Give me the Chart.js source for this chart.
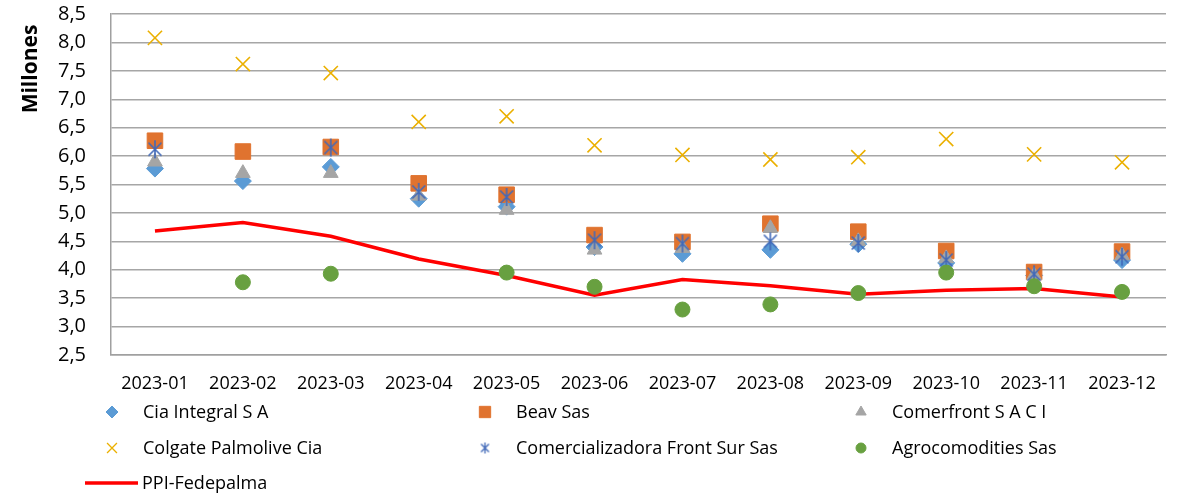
<!DOCTYPE html>
<html><head><meta charset="utf-8">
<script src="https://cdn.jsdelivr.net/npm/chart.js@4.4.1/dist/chart.umd.min.js"></script>
<style>html,body{margin:0;padding:0;background:#fff;overflow:hidden}#wrap{width:1178px;height:495px;position:relative}</style>
</head><body><div id="wrap"><canvas id="c" width="1178" height="495"></canvas></div>
<script>
const categories = ['2023-01','2023-02','2023-03','2023-04','2023-05','2023-06','2023-07','2023-08','2023-09','2023-10','2023-11','2023-12'];
const ciaIntegral = [5.78,5.56,5.81,5.25,5.11,4.40,4.28,4.35,4.45,4.12,3.90,4.17];
const beavSas = [6.27,6.08,6.16,5.52,5.32,4.61,4.49,4.81,4.67,4.33,3.96,4.32];
const comerfront = [5.90,5.70,5.70,5.30,5.05,4.35,4.38,4.73,4.50,4.20,3.90,4.25];
const colgate = [8.08,7.62,7.46,6.60,6.70,6.19,6.02,5.94,5.98,6.30,6.03,5.89];
const comercializadora = [6.12,null,6.15,5.37,5.28,4.52,4.46,4.50,4.47,4.17,3.92,4.23];
const agrocomodities = [null,3.78,3.93,null,3.95,3.70,3.30,3.39,3.59,3.95,3.71,3.61];
const ppiFedepalma = [4.68,4.83,4.59,4.19,3.90,3.55,3.83,3.72,3.57,3.64,3.67,3.52];
const yTicks = [2.5,3.0,3.5,4.0,4.5,5.0,5.5,6.0,6.5,7.0,7.5,8.0,8.5];
const seriesNames = ['Cia Integral S A','Beav Sas','Comerfront S A C I','Colgate Palmolive Cia','Comercializadora Front Sur Sas','Agrocomodities Sas','PPI-Fedepalma'];
const yTitle = 'Millones';

const FONT = "'Open Sans', 'Noto Sans', sans-serif";

function makeAsterisk(size, color, lw) {
  const cv = document.createElement('canvas');
  cv.width = size; cv.height = size;
  const c = cv.getContext('2d');
  c.strokeStyle = color; c.lineWidth = lw; c.lineCap = 'butt';
  const m = size / 2, a = size / 2 - 1, d = a * 0.72;
  c.beginPath();
  c.moveTo(m, m - a); c.lineTo(m, m + a);
  c.moveTo(m - d, m - d); c.lineTo(m + d, m + d);
  c.moveTo(m + d, m - d); c.lineTo(m - d, m + d);
  c.stroke();
  return cv;
}
const asteriskBig = makeAsterisk(20, '#4169b8', 1.6);
const asteriskSmall = makeAsterisk(13, '#4169b8', 1.3);

function scatterSet(label, data, style, color, radius, order, extra) {
  return Object.assign({
    label, data, showLine: false, pointStyle: style,
    pointRadius: radius, pointHoverRadius: radius,
    pointBackgroundColor: color, pointBorderColor: color, pointBorderWidth: 1,
    backgroundColor: color, borderColor: color, order
  }, extra || {});
}

const datasets = [
  scatterSet(seriesNames[0], ciaIntegral, 'rectRot', '#5b9bd5', 8.5, 6),
  scatterSet(seriesNames[1], beavSas, 'rect', '#e0732f', 11, 5),
  scatterSet(seriesNames[2], comerfront, 'triangle', '#a5a5a5', 8.5, 4),
  scatterSet(seriesNames[3], colgate, 'crossRot', '#ebb000', 10, 3, {pointBorderWidth: 1.6}),
  scatterSet(seriesNames[4], comercializadora, asteriskBig, '#4169b8', 10, 2),
  scatterSet(seriesNames[5], agrocomodities, 'circle', '#68a040', 7.5, 1),
  {label: seriesNames[6], data: ppiFedepalma, borderColor: '#ff0000', backgroundColor: '#ff0000',
   borderWidth: 3.5, pointRadius: 0, pointHoverRadius: 0, tension: 0, order: 7}
];

const legendMarkers = [
  {style: 'rectRot', color: '#5b9bd5', r: 6},
  {style: 'rect', color: '#e0732f', r: 8},
  {style: 'triangle', color: '#a5a5a5', r: 6},
  {style: 'crossRot', color: '#ebb000', r: 7, bw: 1.3},
  {style: asteriskSmall, color: '#4169b8', r: 6},
  {style: 'circle', color: '#68a040', r: 5},
  {style: 'line', color: '#ff0000'}
];

const decor = {
  id: 'decor',
  afterDraw(chart) {
    const ctx = chart.ctx;
    ctx.save();
    ctx.translate(31, 69);
    ctx.rotate(-Math.PI / 2);
    ctx.font = "bold 21px " + FONT;
    ctx.fillStyle = '#000';
    ctx.textAlign = 'center';
    ctx.textBaseline = 'middle';
    ctx.fillText(yTitle, 0, 0);
    ctx.restore();

    const colX = [112, 485, 861];
    const rowY = [412, 448, 483];
    ctx.save();
    ctx.font = "18px " + FONT;
    ctx.textBaseline = 'middle';
    ctx.textAlign = 'left';
    seriesNames.forEach((name, i) => {
      const col = i % 3, row = Math.floor(i / 3);
      const mx = colX[col], my = rowY[row];
      const m = legendMarkers[i];
      if (m.style === 'line') {
        ctx.strokeStyle = m.color; ctx.lineWidth = 3.5;
        ctx.beginPath(); ctx.moveTo(85, my); ctx.lineTo(138, my); ctx.stroke();
        ctx.fillStyle = '#000';
        ctx.fillText(name, 142, my + 1);
        return;
      }
      ctx.fillStyle = m.color; ctx.strokeStyle = m.color; ctx.lineWidth = m.bw || 1;
      Chart.helpers.drawPoint(ctx, {pointStyle: m.style, radius: m.r, rotation: 0, borderWidth: m.bw || 1}, mx, my);
      ctx.fillStyle = '#000';
      ctx.fillText(name, mx + 31, my + 1);
    });
    ctx.restore();
  }
};

new Chart(document.getElementById('c'), {
  type: 'line',
  data: {labels: categories, datasets},
  options: {
    responsive: false,
    animation: false,
    layout: {padding: {left: 0, right: 5, top: 14, bottom: 100}},
    plugins: {legend: {display: false}, tooltip: {enabled: false}},
    scales: {
      x: {
        offset: true,
        grid: {display: false, drawTicks: false},
        border: {display: true, color: '#a0a0a0', width: 1.5},
        ticks: {color: '#000', font: {family: FONT, size: 18}, padding: 18, maxRotation: 0, autoSkip: false},
        afterFit(s) { s.height = 40; s.paddingLeft = 0; s.paddingRight = 0; }
      },
      y: {
        min: 2.5, max: 8.5,
        afterBuildTicks(s) { s.ticks = yTicks.map(v => ({value: v})); },
        grid: {color: '#a6a6a6', lineWidth: 1.5, drawTicks: false},
        border: {display: true, color: '#a0a0a0', width: 1.5},
        ticks: {color: '#000', font: {family: FONT, size: 20}, padding: 25, autoSkip: false,
          callback: v => Number(v).toFixed(1).replace('.', ',')},
        afterFit(s) { s.width = 111; s.paddingTop = 0; s.paddingBottom = 0; }
      }
    }
  },
  plugins: [decor]
});
</script></body></html>
